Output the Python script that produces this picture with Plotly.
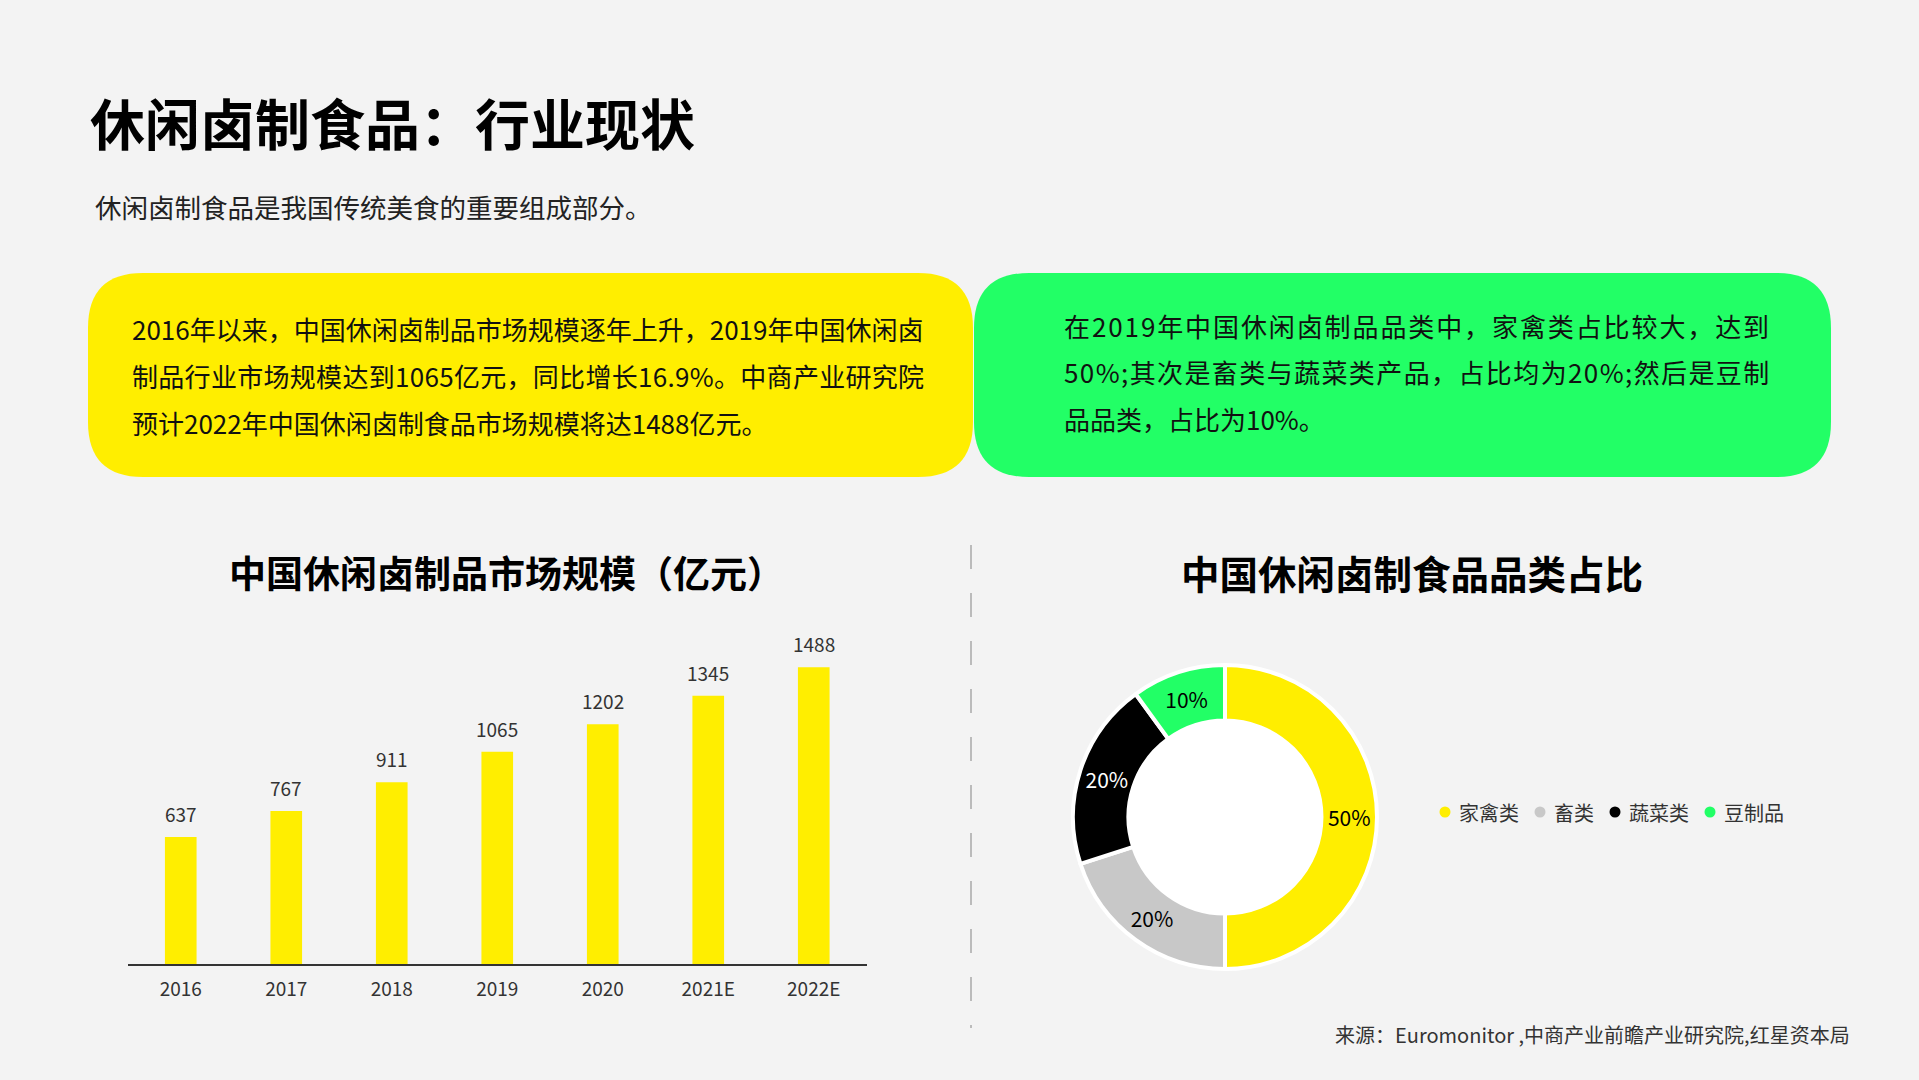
"""休闲卤制食品：行业现状 — Plotly 复刻."""

import plotly.graph_objects as go

W, H = 1919, 1080
FONT = "Noto Sans CJK SC"
BG = "#f3f3f3"
YELLOW = "#ffee00"
GREEN = "#22ff66"

# 数据
years = ["2016", "2017", "2018", "2019", "2020", "2021E", "2022E"]
market_size = [637, 767, 911, 1065, 1202, 1345, 1488]

categories = ["家禽类", "畜类", "蔬菜类", "豆制品"]
shares = [50, 20, 20, 10]
share_colors = [YELLOW, "#c8c8c8", "#000000", GREEN]
share_text_colors = ["#000000", "#000000", "#ffffff", "#000000"]

title = "休闲卤制食品：行业现状"
subtitle = "休闲卤制食品是我国传统美食的重要组成部分。"
yellow_lines = [
    "2016年以来，中国休闲卤制品市场规模逐年上升，2019年中国休闲卤",
    "制品行业市场规模达到1065亿元，同比增长16.9%。中商产业研究院",
    "预计2022年中国休闲卤制食品市场规模将达1488亿元。",
]
green_lines = [
    "在2019年中国休闲卤制品品类中，家禽类占比较大，达到",
    "50%;其次是畜类与蔬菜类产品，占比均为20%;然后是豆制",
    "品品类，占比为10%。",
]
bar_title = "中国休闲卤制品市场规模（亿元）"
pie_title = "中国休闲卤制食品品类占比"
source = "来源：Euromonitor ,中商产业前瞻产业研究院,红星资本局"

# 两端对齐：每行的字距(px)，末行不拉伸
yellow_spacing = [0, 0.3, 0]
green_spacing = [1.9, 1.4, 0]


def px(x):
    return x / W


def py(y):
    return 1 - y / H


def rounded_box(x0, y0, x1, y1, r):
    pts = [
        f"M {px(x0 + r)},{py(y0)}",
        f"L {px(x1 - r)},{py(y0)}",
        f"Q {px(x1)},{py(y0)} {px(x1)},{py(y0 + r)}",
        f"L {px(x1)},{py(y1 - r)}",
        f"Q {px(x1)},{py(y1)} {px(x1 - r)},{py(y1)}",
        f"L {px(x0 + r)},{py(y1)}",
        f"Q {px(x0)},{py(y1)} {px(x0)},{py(y1 - r)}",
        f"L {px(x0)},{py(y0 + r)}",
        f"Q {px(x0)},{py(y0)} {px(x0 + r)},{py(y0)}",
        "Z",
    ]
    return " ".join(pts)


fig = go.Figure()

fig.add_trace(
    go.Bar(
        x=years,
        y=market_size,
        marker=dict(color=YELLOW, line=dict(width=0)),
        width=0.3,
        showlegend=False,
        hoverinfo="x+y",
    )
)

# 饼图
pie_cx, pie_cy, pie_r = 1225, 817, 152
fig.add_trace(
    go.Pie(
        labels=categories,
        values=shares,
        marker=dict(colors=share_colors, line=dict(color="#ffffff", width=4)),
        hole=0.635,
        sort=False,
        direction="clockwise",
        rotation=0,
        textinfo="percent",
        textposition="inside",
        insidetextorientation="horizontal",
        textfont=dict(family=FONT, size=21, color=share_text_colors),
        domain=dict(
            x=[px(pie_cx - pie_r), px(pie_cx + pie_r)],
            y=[py(pie_cy + pie_r), py(pie_cy - pie_r)],
        ),
        showlegend=False,
    )
)

annotations = []
shapes = []

# 柱顶数值（类别轴上用序号定位）
for i, v in enumerate(market_size):
    annotations.append(dict(
        x=i, y=v, xref="x", yref="y", text=str(v), showarrow=False,
        yanchor="bottom", yshift=8,
        font=dict(family=FONT, size=19, color="#333333"),
    ))

# 图例：圆点 + 文字
lx, ly = 1445, 812
for cat, col in zip(categories, share_colors):
    shapes.append(dict(
        type="circle", xref="paper", yref="paper",
        x0=px(lx - 5.5), x1=px(lx + 5.5), y0=py(ly + 5.5), y1=py(ly - 5.5),
        fillcolor=col, line=dict(width=0),
    ))
    annotations.append(dict(
        x=px(lx + 12), y=py(ly), text=cat, xanchor="left", yanchor="middle",
        font=dict(family=FONT, size=20, color="#333333"),
    ))
    lx += 20 * len(cat) + 35

annotations += [
    dict(x=px(88), y=py(121), text=title, xanchor="left", yanchor="middle",
         font=dict(family=FONT, size=55, color="#000000", weight=700)),
    dict(x=px(93), y=py(206), text=subtitle, xanchor="left", yanchor="middle",
         font=dict(family=FONT, size=26.5, color="#222222")),
    dict(x=px(506), y=py(572), text=bar_title, xanchor="center", yanchor="middle",
         font=dict(family=FONT, size=37, color="#000000", weight=700)),
    dict(x=px(1412), y=py(572), text=pie_title, xanchor="center", yanchor="middle",
         font=dict(family=FONT, size=38.5, color="#000000", weight=700)),
    dict(x=px(1852), y=py(1034), text=source, xanchor="right", yanchor="middle",
         font=dict(family=FONT, size=20, color="#333333")),
]
for i, (line, ls) in enumerate(zip(yellow_lines, yellow_spacing)):
    annotations.append(dict(
        x=px(130), y=py(329 + i * 46.5),
        text=f"<span style='letter-spacing:{ls}px'>{line}</span>",
        xanchor="left", yanchor="middle",
        font=dict(family=FONT, size=26, color="#111111"),
    ))
for i, (line, ls) in enumerate(zip(green_lines, green_spacing)):
    annotations.append(dict(
        x=px(1062), y=py(325 + i * 46.5),
        text=f"<span style='letter-spacing:{ls}px'>{line}</span>",
        xanchor="left", yanchor="middle",
        font=dict(family=FONT, size=26, color="#111111"),
    ))
for a in annotations:
    a.setdefault("xref", "paper")
    a.setdefault("yref", "paper")
    a.setdefault("showarrow", False)

shapes += [
    dict(type="path", path=rounded_box(88, 273, 973, 477, 55), xref="paper", yref="paper",
         fillcolor=YELLOW, line=dict(width=0), layer="below"),
    dict(type="path", path=rounded_box(974, 273, 1831, 477, 55), xref="paper", yref="paper",
         fillcolor=GREEN, line=dict(width=0), layer="below"),
    dict(type="line", xref="paper", yref="paper", x0=px(971), x1=px(971),
         y0=py(545), y1=py(1028), line=dict(color="#bbbbbb", width=2, dash="24px,24px")),
    dict(type="circle", xref="paper", yref="paper",
         x0=px(pie_cx - 97), x1=px(pie_cx + 97), y0=py(pie_cy + 97), y1=py(pie_cy - 97),
         fillcolor="#ffffff", line=dict(width=0), layer="below"),
]

fig.update_layout(
    width=W,
    height=H,
    margin=dict(l=0, r=0, t=0, b=0),
    paper_bgcolor=BG,
    plot_bgcolor=BG,
    font=dict(family=FONT, color="#333333"),
    showlegend=False,
    xaxis=dict(
        type="category",
        range=[-0.5, len(years) - 0.5],
        domain=[px(128), px(866.5)],
        showgrid=False, zeroline=False,
        showline=True, linecolor="#333333", linewidth=2,
        ticks="", ticklabelstandoff=7,
        tickfont=dict(family=FONT, size=19, color="#333333"),
    ),
    yaxis=dict(
        domain=[py(964), py(645)],
        range=[0, 1600],
        visible=False, showgrid=False, zeroline=False,
    ),
    annotations=annotations,
    shapes=shapes,
)

fig.write_html(
    "out.html",
    config={"displayModeBar": False},
    post_script="document.body.style.margin='0px';",
)
